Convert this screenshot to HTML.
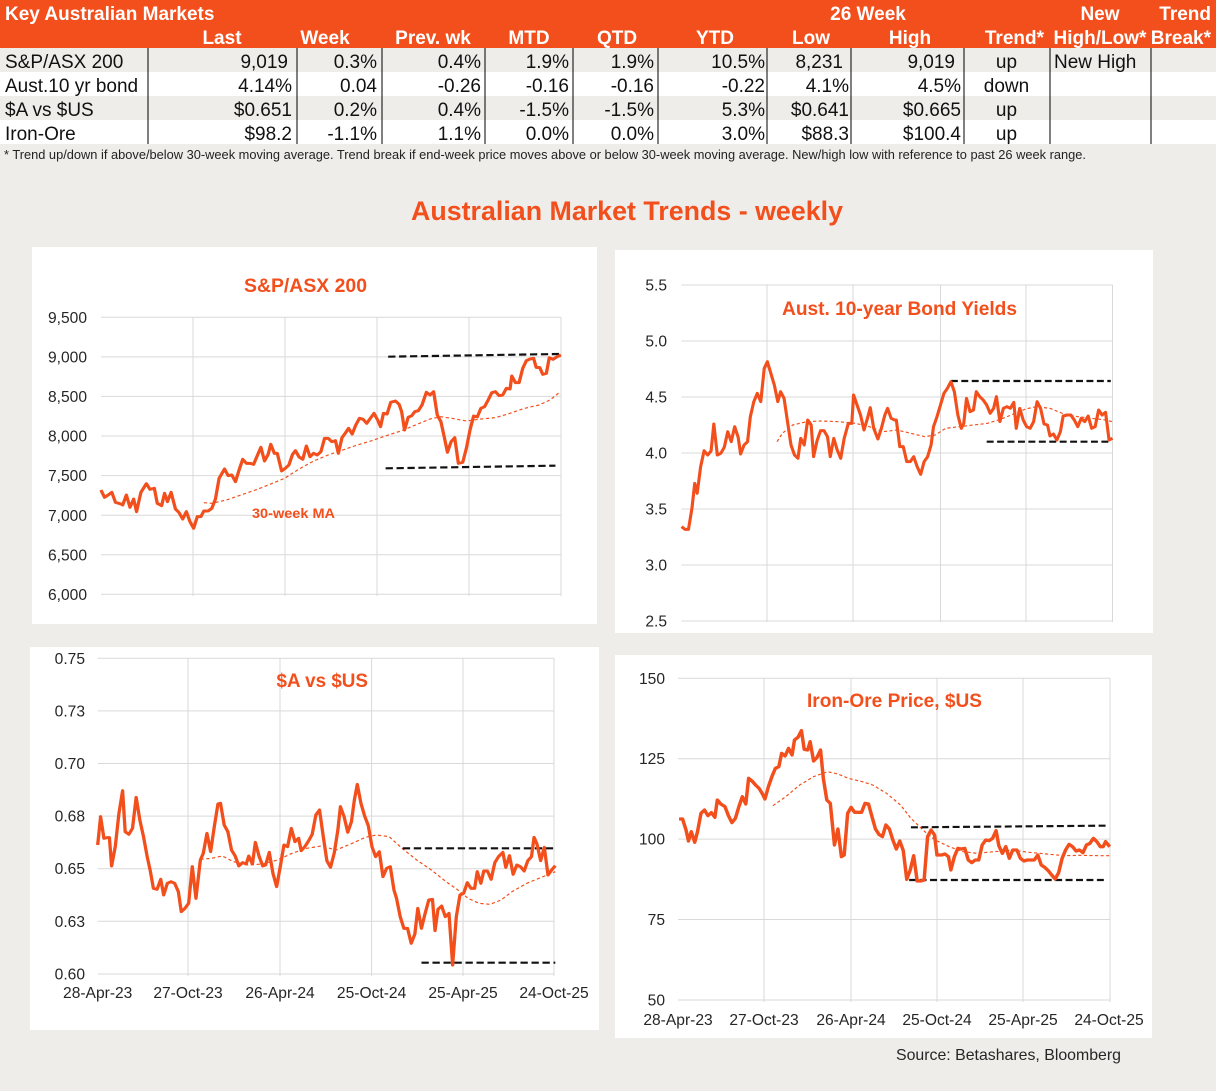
<!DOCTYPE html>
<html><head><meta charset="utf-8"><style>
html,body{margin:0;padding:0;background:#efedea;}
svg{display:block;font-family:"Liberation Sans",Arial,sans-serif;}
</style></head><body>
<svg width="1216" height="1091" viewBox="0 0 1216 1091" xmlns="http://www.w3.org/2000/svg">
<rect x="0" y="0" width="1216" height="1091" fill="#efedea"/>
<!-- TABLE -->
<rect x="0" y="0" width="1216" height="48" fill="#f24f1c"/>
<rect x="0" y="72" width="1216" height="24" fill="#ffffff"/>
<rect x="0" y="120" width="1216" height="24" fill="#ffffff"/>
<g fill="#fff" font-weight="bold" font-size="19">
<text x="5" y="20">Key Australian Markets</text>
<text x="868" y="20" text-anchor="middle">26 Week</text>
<text x="1100" y="20" text-anchor="middle">New</text>
<text x="1211" y="20" text-anchor="end">Trend</text>
<text x="222" y="44" text-anchor="middle">Last</text>
<text x="325" y="44" text-anchor="middle">Week</text>
<text x="433" y="44" text-anchor="middle">Prev. wk</text>
<text x="529" y="44" text-anchor="middle">MTD</text>
<text x="617" y="44" text-anchor="middle">QTD</text>
<text x="715" y="44" text-anchor="middle">YTD</text>
<text x="811" y="44" text-anchor="middle">Low</text>
<text x="910" y="44" text-anchor="middle">High</text>
<text x="1044" y="44" text-anchor="end">Trend*</text>
<text x="1100" y="44" text-anchor="middle">High/Low*</text>
<text x="1211" y="44" text-anchor="end">Break*</text>
</g>
<g stroke="#000" stroke-width="1">
<line x1="148" y1="48" x2="148" y2="144"/><line x1="297" y1="48" x2="297" y2="144"/>
<line x1="382" y1="48" x2="382" y2="144"/><line x1="485" y1="48" x2="485" y2="144"/>
<line x1="573" y1="48" x2="573" y2="144"/><line x1="658" y1="48" x2="658" y2="144"/>
<line x1="767" y1="48" x2="767" y2="144"/><line x1="851" y1="48" x2="851" y2="144"/>
<line x1="964" y1="48" x2="964" y2="144"/><line x1="1050" y1="48" x2="1050" y2="144"/>
<line x1="1151" y1="48" x2="1151" y2="144"/>
</g>
<g fill="#111" font-size="19">
<text x="5" y="68">S&amp;P/ASX 200</text>
<text x="5" y="92">Aust.10 yr bond</text>
<text x="5" y="116">$A vs $US</text>
<text x="5" y="140">Iron-Ore</text>
<g text-anchor="end">
<text x="288" y="68">9,019</text><text x="292" y="92">4.14%</text><text x="292" y="116">$0.651</text><text x="292" y="140">$98.2</text>
<text x="377" y="68">0.3%</text><text x="377" y="92">0.04</text><text x="377" y="116">0.2%</text><text x="377" y="140">-1.1%</text>
<text x="481" y="68">0.4%</text><text x="481" y="92">-0.26</text><text x="481" y="116">0.4%</text><text x="481" y="140">1.1%</text>
<text x="569" y="68">1.9%</text><text x="569" y="92">-0.16</text><text x="569" y="116">-1.5%</text><text x="569" y="140">0.0%</text>
<text x="654" y="68">1.9%</text><text x="654" y="92">-0.16</text><text x="654" y="116">-1.5%</text><text x="654" y="140">0.0%</text>
<text x="765" y="68">10.5%</text><text x="765" y="92">-0.22</text><text x="765" y="116">5.3%</text><text x="765" y="140">3.0%</text>
<text x="843" y="68">8,231</text><text x="849" y="92">4.1%</text><text x="849" y="116">$0.641</text><text x="849" y="140">$88.3</text>
<text x="955" y="68">9,019</text><text x="961" y="92">4.5%</text><text x="961" y="116">$0.665</text><text x="961" y="140">$100.4</text>
</g>
<g text-anchor="middle">
<text x="1006.5" y="68">up</text><text x="1006.5" y="92">down</text><text x="1006.5" y="116">up</text><text x="1006.5" y="140">up</text>
</g>
<text x="1054" y="68">New High</text>
</g>
<text x="4" y="159" font-size="13" fill="#222" textLength="1082" lengthAdjust="spacingAndGlyphs">*  Trend up/down if above/below 30-week moving average. Trend break if end-week price moves above or below 30-week moving average.  New/high low with reference to past 26 week range.</text>

<text x="411" y="220" font-size="26.7" font-weight="bold" fill="#f24f1c" textLength="432" lengthAdjust="spacingAndGlyphs">Australian Market Trends - weekly</text>

<!-- PANELS -->
<rect x="32" y="247" width="565" height="377" fill="#fff"/>
<rect x="615" y="250" width="538" height="383" fill="#fff"/>
<rect x="30" y="647" width="569" height="383" fill="#fff"/>
<rect x="615" y="655" width="537" height="383" fill="#fff"/>

<!-- CHART 1 grid -->
<g stroke="#d9d9d9" stroke-width="1">
<line x1="101" y1="317.3" x2="561" y2="317.3"/><line x1="101" y1="356.9" x2="561" y2="356.9"/>
<line x1="101" y1="396.4" x2="561" y2="396.4"/><line x1="101" y1="436" x2="561" y2="436"/>
<line x1="101" y1="475.6" x2="561" y2="475.6"/><line x1="101" y1="515.2" x2="561" y2="515.2"/>
<line x1="101" y1="554.7" x2="561" y2="554.7"/><line x1="101" y1="594.3" x2="561" y2="594.3"/>
<line x1="193" y1="317.3" x2="193" y2="596"/><line x1="285" y1="317.3" x2="285" y2="596"/>
<line x1="377" y1="317.3" x2="377" y2="596"/><line x1="469" y1="317.3" x2="469" y2="596"/>
<line x1="561" y1="317.3" x2="561" y2="596"/>
</g>
<g font-size="15.6" fill="#262626" text-anchor="end">
<text x="87" y="323">9,500</text><text x="87" y="362.5">9,000</text><text x="87" y="402">8,500</text>
<text x="87" y="441.6">8,000</text><text x="87" y="481.2">7,500</text><text x="87" y="520.8">7,000</text>
<text x="87" y="560.3">6,500</text><text x="87" y="600">6,000</text>
</g>
<text x="244" y="292" font-size="19" font-weight="bold" fill="#f24f1c" textLength="123" lengthAdjust="spacingAndGlyphs">S&amp;P/ASX 200</text>
<text x="252" y="518" font-size="14" font-weight="bold" fill="#f24f1c" textLength="83" lengthAdjust="spacingAndGlyphs">30-week MA</text>
<g transform="translate(30,245) scale(0.363636,0.333333)" fill="none" stroke-linejoin="round">
<polyline stroke="#f24f1c" stroke-width="3.5" stroke-dasharray="9,7" points="478,773 500,775 540,765 580,750 620,735 660,718 700,700 740,672 780,648 820,630 860,615 900,600 940,587 980,572 1020,558 1060,540 1100,522 1130,515 1160,520 1200,528 1240,522 1280,518 1320,505 1360,490 1400,480 1430,465 1455,443"/>
<line x1="985" y1="335" x2="1455" y2="327" stroke="#111" stroke-width="6.5" stroke-dasharray="20,10"/>
<line x1="978" y1="670" x2="1445" y2="662" stroke="#111" stroke-width="6.5" stroke-dasharray="20,10"/>
<polyline stroke="#f24f1c" stroke-width="9" points="195,735 205,757 215,750 225,742 235,772 250,777 255,780 265,750 275,787 285,762 293,800 305,742 320,716 330,733 342,730 350,775 362,782 370,745 378,770 388,742 400,792 410,803 420,822 430,800 440,830 450,850 460,815 470,815 478,798 490,798 500,790 510,762 520,700 535,672 545,692 555,690 565,710 575,675 585,643 595,655 605,655 615,658 625,632 635,607 645,648 655,628 662,598 672,625 680,625 692,678 702,670 712,660 722,628 730,617 740,636 750,643 760,603 770,635 780,625 790,630 800,620 810,580 820,580 830,590 840,587 848,625 858,578 868,563 876,550 886,567 896,540 906,520 916,523 926,535 936,520 946,505 956,525 964,545 972,505 982,507 992,472 1005,468 1015,478 1022,500 1030,555 1040,517 1050,512 1058,500 1068,497 1078,480 1090,442 1100,450 1110,440 1120,510 1130,530 1140,580 1148,622 1158,590 1168,578 1178,655 1190,652 1200,610 1210,555 1220,513 1230,516 1240,490 1250,485 1260,465 1270,443 1280,440 1290,452 1300,450 1310,430 1320,432 1325,393 1335,413 1345,413 1355,370 1365,347 1375,342 1385,340 1392,367 1402,368 1410,388 1420,385 1428,338 1438,343 1450,335 1460,330"/>
</g>

<!-- CHART 2 grid -->
<g stroke="#d9d9d9" stroke-width="1">
<line x1="681.5" y1="285" x2="1112.5" y2="285"/><line x1="681.5" y1="341" x2="1112.5" y2="341"/>
<line x1="681.5" y1="397" x2="1112.5" y2="397"/><line x1="681.5" y1="453" x2="1112.5" y2="453"/>
<line x1="681.5" y1="509" x2="1112.5" y2="509"/><line x1="681.5" y1="565" x2="1112.5" y2="565"/>
<line x1="681.5" y1="621" x2="1112.5" y2="621"/>
<line x1="767" y1="285" x2="767" y2="622"/><line x1="853" y1="285" x2="853" y2="622"/>
<line x1="940.5" y1="285" x2="940.5" y2="622"/><line x1="1026" y1="285" x2="1026" y2="622"/>
<line x1="1112.5" y1="285" x2="1112.5" y2="622"/>
</g>
<g font-size="15.6" fill="#262626" text-anchor="end">
<text x="667" y="290.5">5.5</text><text x="667" y="346.5">5.0</text><text x="667" y="402.5">4.5</text>
<text x="667" y="458.5">4.0</text><text x="667" y="514.5">3.5</text><text x="667" y="570.5">3.0</text>
<text x="667" y="626.5">2.5</text>
</g>
<text x="782" y="315" font-size="19" font-weight="bold" fill="#f24f1c" textLength="235" lengthAdjust="spacingAndGlyphs">Aust. 10-year Bond Yields</text>
<g transform="translate(612,245) scale(0.34758,0.333333)" fill="none" stroke-linejoin="round">
<polyline stroke="#f24f1c" stroke-width="3.5" stroke-dasharray="9,7" points="475,590 490,565 520,540 560,530 600,528 650,530 700,535 740,545 780,560 820,555 860,565 900,575 930,570 960,550 1000,545 1040,540 1080,535 1120,522 1160,505 1190,492 1220,485 1260,490 1300,507 1340,515 1380,520 1420,525 1440,530"/>
<line x1="975" y1="408" x2="1435" y2="408" stroke="#111" stroke-width="6.5" stroke-dasharray="20,10"/>
<line x1="1078" y1="590" x2="1435" y2="590" stroke="#111" stroke-width="6.5" stroke-dasharray="20,10"/>
<polyline stroke="#f24f1c" stroke-width="9" points="200,845 210,853 220,853 230,790 238,715 245,745 255,665 265,617 275,630 285,618 293,537 303,630 313,625 323,607 333,560 343,590 353,545 363,577 370,627 380,600 390,590 398,515 408,470 418,445 428,470 438,370 447,350 457,385 467,420 477,470 485,440 495,460 505,530 515,600 525,630 535,640 543,580 553,600 563,525 573,540 580,635 590,587 600,557 610,557 620,575 628,635 638,580 648,615 658,640 668,580 680,535 690,535 695,450 705,480 715,510 725,555 735,520 743,488 753,550 765,582 775,550 785,510 793,490 803,520 813,525 818,525 828,605 838,605 848,650 858,650 868,635 878,665 888,688 898,650 908,635 918,600 925,545 935,515 945,480 955,445 965,430 975,410 985,440 995,510 1005,550 1012,535 1020,460 1030,500 1040,495 1048,440 1058,455 1068,465 1078,480 1088,505 1098,490 1106,455 1116,530 1126,490 1136,485 1146,490 1156,472 1163,550 1173,490 1183,525 1193,545 1203,550 1213,530 1223,470 1233,490 1243,537 1253,540 1260,573 1270,567 1280,585 1290,560 1298,513 1310,510 1320,510 1330,525 1340,545 1350,520 1360,530 1370,513 1380,550 1390,545 1400,495 1410,510 1420,502 1430,585 1440,580"/>
</g>

<!-- CHART 3 grid -->
<g stroke="#d9d9d9" stroke-width="1">
<line x1="97.7" y1="658.3" x2="554" y2="658.3"/><line x1="97.7" y1="710.9" x2="554" y2="710.9"/>
<line x1="97.7" y1="763.5" x2="554" y2="763.5"/><line x1="97.7" y1="816.1" x2="554" y2="816.1"/>
<line x1="97.7" y1="868.7" x2="554" y2="868.7"/><line x1="97.7" y1="921.3" x2="554" y2="921.3"/>
<line x1="97.7" y1="974" x2="554" y2="974"/>
<line x1="188" y1="658.3" x2="188" y2="976"/><line x1="280" y1="658.3" x2="280" y2="976"/>
<line x1="371.6" y1="658.3" x2="371.6" y2="976"/><line x1="463" y1="658.3" x2="463" y2="976"/>
<line x1="554" y1="658.3" x2="554" y2="976"/>
</g>
<g font-size="15.6" fill="#262626" text-anchor="end">
<text x="85" y="663.8">0.75</text><text x="85" y="716.4">0.73</text><text x="85" y="769">0.70</text>
<text x="85" y="821.6">0.68</text><text x="85" y="874.2">0.65</text><text x="85" y="926.8">0.63</text>
<text x="85" y="979.5">0.60</text>
</g>
<g font-size="15.6" fill="#262626" text-anchor="middle">
<text x="97.7" y="998">28-Apr-23</text><text x="188" y="998">27-Oct-23</text><text x="280" y="998">26-Apr-24</text>
<text x="371.6" y="998">25-Oct-24</text><text x="463" y="998">25-Apr-25</text><text x="554" y="998">24-Oct-25</text>
</g>
<text x="276.5" y="687" font-size="19" font-weight="bold" fill="#f24f1c" textLength="91.5" lengthAdjust="spacingAndGlyphs">$A vs $US</text>
<g transform="translate(28,640) scale(0.3667,0.333333)" fill="none" stroke-linejoin="round">
<polyline stroke="#f24f1c" stroke-width="3.5" stroke-dasharray="9,7" points="470,658 500,655 530,648 560,665 600,675 640,672 680,660 720,640 760,625 800,618 840,630 880,612 920,592 950,585 985,590 1020,625 1060,660 1100,690 1140,725 1170,748 1200,775 1230,790 1260,793 1290,780 1320,755 1360,730 1400,712 1438,695"/>
<line x1="1022" y1="625" x2="1435" y2="625" stroke="#111" stroke-width="6.5" stroke-dasharray="20,10"/>
<line x1="1073" y1="968" x2="1438" y2="968" stroke="#111" stroke-width="6.5" stroke-dasharray="20,10"/>
<polyline stroke="#f24f1c" stroke-width="9" points="190,615 198,530 207,595 215,593 222,593 228,678 238,620 248,520 258,452 265,575 275,583 285,565 295,472 305,540 315,590 325,650 333,690 342,745 352,748 362,718 370,765 380,730 390,725 400,730 410,755 418,815 428,805 438,790 448,680 458,775 470,660 478,640 488,580 498,635 508,560 518,492 525,490 535,555 545,575 555,630 565,648 575,678 585,668 595,672 602,648 612,672 620,607 630,648 640,678 648,675 658,637 668,700 678,740 688,680 698,615 708,620 718,565 728,605 738,595 745,632 755,620 765,603 775,583 785,525 795,510 805,588 815,662 825,682 835,640 845,570 852,500 862,530 872,577 882,545 890,480 898,433 908,490 918,528 928,557 938,620 948,650 958,635 968,710 978,685 988,680 998,750 1005,775 1015,830 1025,865 1035,865 1045,910 1055,882 1063,805 1073,865 1083,820 1093,780 1103,778 1110,872 1118,808 1128,798 1138,830 1148,820 1158,975 1168,830 1178,765 1188,760 1198,728 1208,745 1218,745 1225,695 1235,730 1243,693 1253,693 1263,718 1273,668 1283,650 1295,637 1303,682 1313,647 1323,703 1333,675 1343,680 1353,693 1363,662 1373,650 1380,592 1388,612 1398,662 1408,622 1418,705 1428,690 1438,677"/>
</g>

<!-- CHART 4 grid -->
<g stroke="#d9d9d9" stroke-width="1">
<line x1="678" y1="678.3" x2="1110" y2="678.3"/><line x1="678" y1="758.7" x2="1110" y2="758.7"/>
<line x1="678" y1="839.1" x2="1110" y2="839.1"/><line x1="678" y1="919.5" x2="1110" y2="919.5"/>
<line x1="678" y1="1000" x2="1110" y2="1000"/>
<line x1="764" y1="678.3" x2="764" y2="1002"/><line x1="851" y1="678.3" x2="851" y2="1002"/>
<line x1="937" y1="678.3" x2="937" y2="1002"/><line x1="1023" y1="678.3" x2="1023" y2="1002"/>
<line x1="1110" y1="678.3" x2="1110" y2="1002"/>
</g>
<g font-size="15.6" fill="#262626" text-anchor="end">
<text x="665" y="683.8">150</text><text x="665" y="764.2">125</text><text x="665" y="844.6">100</text>
<text x="665" y="925">75</text><text x="665" y="1005.5">50</text>
</g>
<g font-size="15.6" fill="#262626" text-anchor="middle">
<text x="678" y="1025">28-Apr-23</text><text x="764" y="1025">27-Oct-23</text><text x="851" y="1025">26-Apr-24</text>
<text x="937" y="1025">25-Oct-24</text><text x="1023" y="1025">25-Apr-25</text><text x="1109" y="1025">24-Oct-25</text>
</g>
<text x="807" y="707" font-size="19" font-weight="bold" fill="#f24f1c" textLength="175" lengthAdjust="spacingAndGlyphs">Iron-Ore Price, $US</text>
<g transform="translate(612,650) scale(0.34758,0.333333)" fill="none" stroke-linejoin="round">
<polyline stroke="#f24f1c" stroke-width="3.5" stroke-dasharray="9,7" points="463,467 500,440 540,405 580,380 620,365 650,372 680,385 720,395 750,405 790,430 830,465 860,505 900,545 930,570 970,590 1010,605 1050,610 1100,605 1150,600 1200,607 1250,612 1300,617 1350,616 1400,617 1432,617"/>
<line x1="860" y1="532" x2="1420" y2="527" stroke="#111" stroke-width="6.5" stroke-dasharray="20,10"/>
<line x1="855" y1="690" x2="1425" y2="690" stroke="#111" stroke-width="6.5" stroke-dasharray="20,10"/>
<polyline stroke="#f24f1c" stroke-width="10" points="193,507 203,507 213,540 220,573 228,545 238,577 246,545 256,490 266,480 276,497 286,488 296,502 303,450 313,462 325,470 335,497 345,518 355,505 365,470 375,440 385,462 393,385 403,393 413,405 423,415 433,432 440,447 450,410 460,380 470,355 480,350 488,310 498,318 508,295 518,315 525,270 535,262 545,242 553,298 563,300 570,275 580,333 590,322 600,300 608,385 618,450 628,460 640,585 650,537 660,620 668,615 678,490 688,472 698,487 708,487 718,487 728,460 738,462 748,500 758,537 768,553 778,560 788,525 798,537 808,570 818,597 828,573 838,602 848,688 858,660 868,617 878,693 888,693 898,690 908,560 918,540 928,555 935,615 948,615 958,612 968,620 975,660 985,620 995,595 1005,597 1015,595 1025,630 1035,638 1045,630 1055,630 1065,585 1075,570 1085,572 1095,565 1105,542 1113,587 1123,610 1133,590 1143,625 1153,600 1165,600 1175,625 1185,633 1195,630 1205,630 1215,630 1225,615 1235,645 1245,652 1255,662 1265,675 1275,687 1285,668 1295,625 1305,600 1315,583 1325,590 1335,603 1345,600 1355,608 1365,585 1375,580 1385,565 1395,575 1405,590 1413,590 1420,575 1432,590"/>
</g>

<text x="896" y="1060" font-size="15.6" fill="#262626" textLength="225" lengthAdjust="spacingAndGlyphs">Source: Betashares, Bloomberg</text>
</svg>
</body></html>
